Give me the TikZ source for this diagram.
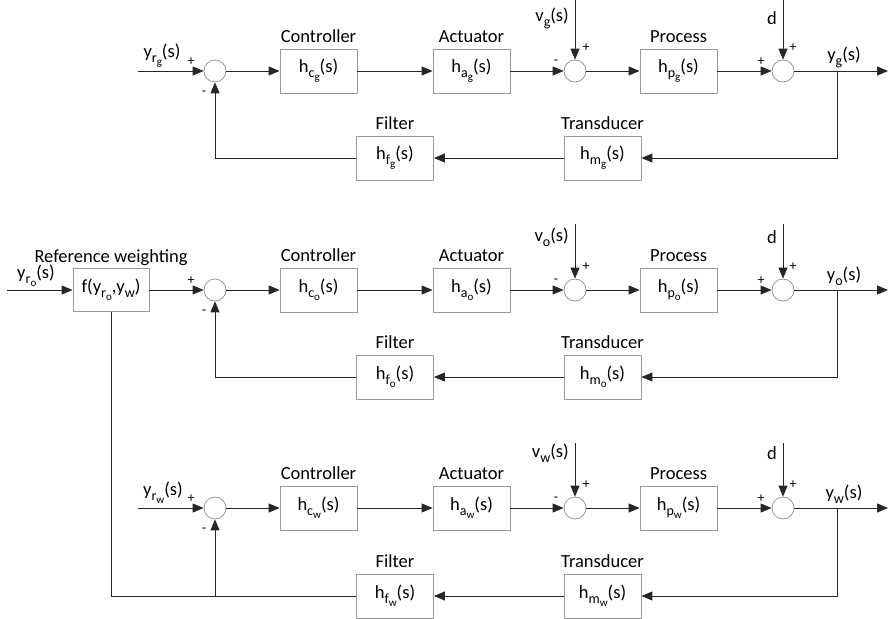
\documentclass[tikz,border=0pt]{standalone}
\usepackage{fontspec}
\setmainfont{Carlito}
\usetikzlibrary{arrows.meta}
\newcommand\subA[1]{\raisebox{-5pt}{\fontsize{14}{14}\selectfont #1}}
\newcommand\subB[1]{\raisebox{-3pt}{\fontsize{11}{11}\selectfont #1}}
\begin{document}
\begin{tikzpicture}[x=1pt,y=-1pt,
  blk/.style={draw=black!40, line width=0.8pt, minimum width=77pt, minimum height=44pt, inner sep=0pt, font=\fontsize{18.5}{18.5}\selectfont},
  sumc/.style={draw=black!40, line width=0.8pt, circle, minimum size=22pt, inner sep=0pt},
  wire/.style={draw=black!85, line width=0.9pt},
  arr/.style={wire, -{Triangle[length=11pt,width=9pt]}},
  ttl/.style={font=\fontsize{18.5}{18.5}\selectfont, inner sep=0pt, anchor=base},
  lbl/.style={font=\fontsize{18.5}{18.5}\selectfont, inner sep=0pt},
  sgn/.style={font=\fontsize{14}{14}\selectfont, inner sep=0pt},
]
\useasboundingbox (0,0) rectangle (888,618);
\foreach \r/\M/\F/\T/\L in {g/71/158/0/18, o/290/377/224/237, w/508/596/443/453} {
  % blocks
  \node[sumc] (s1\r) at (215,\M) {};
  \node[blk] (c\r) at (318.5,\M) {h\subA{c\subB{\r}}(s)};
  \node[blk] (a\r) at (471.5,\M) {h\subA{a\subB{\r}}(s)};
  \node[sumc] (s2\r) at (575,\M) {};
  \node[blk] (p\r) at (678.5,\M) {h\subA{p\subB{\r}}(s)};
  \node[sumc] (s3\r) at (783,\M) {};
  \node[blk] (f\r) at (395,\F) {h\subA{f\subB{\r}}(s)};
  \node[blk] (m\r) at (602.5,\F) {h\subA{m\subB{\r}}(s)};
  % titles
  \node[ttl] (tc\r) at ([yshift=6pt]c\r.north) {Controller};
  \node[ttl] (ta\r) at ([yshift=6pt]a\r.north) {Actuator};
  \node[ttl] (tp\r) at ([yshift=6pt]p\r.north) {Process};
  \node[ttl] (tf\r) at ([yshift=6pt]f\r.north) {Filter};
  \node[ttl] (tm\r) at ([yshift=6pt]m\r.north) {Transducer};
  % forward path
  \draw[arr] (s1\r.east) -- (c\r.west);
  \draw[arr] (c\r.east) -- (a\r.west);
  \draw[arr] (a\r.east) -- (s2\r.west);
  \draw[arr] (s2\r.east) -- (p\r.west);
  \draw[arr] (p\r.east) -- (s3\r.west);
  \coordinate (out\r) at (888,\M);
  \draw[arr] (s3\r.east) -- (out\r);
  % disturbances
  \coordinate (vt\r) at (575,\T);
  \coordinate (dt\r) at (783,\T);
  \draw[arr] (vt\r) -- (s2\r.north);
  \draw[arr] (dt\r) -- (s3\r.north);
  \node[lbl, anchor=east] (vl\r) at (569,\L) {v\subA{\r}(s)};
  \node[lbl, anchor=east] (dl\r) at (777,\L) {d};
  % feedback from output
  \coordinate (br\r) at (837,\M);
  \draw[arr] (br\r) |- (m\r.east);
  \draw[arr] (m\r.west) -- (f\r.east);
  \node[lbl] (yl\r) at (844,\M-14) {y\subA{\r}(s)};
  % signs
  \node[sgn] (p1\r) at (191,\M-9) {+};
  \node[sgn] (n1\r) at (204,\M+22) {-};
  \node[sgn] (n2\r) at (556,\M-9) {-};
  \node[sgn] (p2\r) at (586,\M-23) {+};
  \node[sgn] (p3\r) at (761,\M-9) {+};
  \node[sgn] (p4\r) at (793,\M-23) {+};
}
% row 1 input and feedback
\coordinate (ing) at (138,71);
\draw[arr] (ing) -- (s1g.west);
\node[lbl] (ylg) at (162,56) {y\subA{r\subB{g}}(s)};
\draw[arr] (fg.west) -| (s1g.south);
% row 2 reference weighting
\node[blk, minimum width=76pt, minimum height=43pt] (ref) at (111,290) {f(y\subA{r\subB{o}},y\subA{w})};
\node[ttl] (tref) at ([yshift=6pt]ref.north) {Reference weighting};
\coordinate (ino) at (7,290);
\draw[arr] (ino) -- (ref.west);
\node[lbl] (ylo) at (36,276) {y\subA{r\subB{o}}(s)};
\draw[arr] (ref.east) -- (s1o.west);
\draw[arr] (fo.west) -| (s1o.south);
% row 3 input and feedback
\coordinate (inw) at (138,508);
\draw[arr] (inw) -- (s1w.west);
\node[lbl] (ylw) at (163,493) {y\subA{r\subB{w}}(s)};
\draw[wire] (fw.west) -| (ref.south);
\coordinate (jw) at (215,596);
\draw[arr] (jw) -- (s1w.south);
\end{tikzpicture}
\end{document}
